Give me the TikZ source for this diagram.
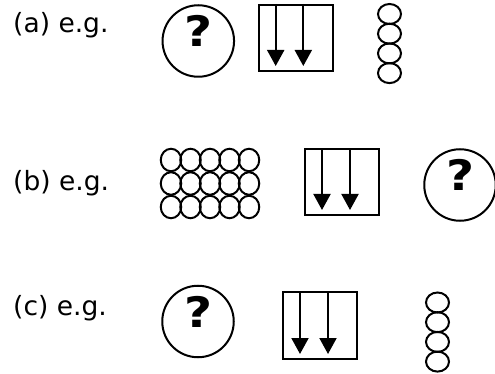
\documentclass[tikz,border=0pt]{standalone}
\usepackage{fontspec}
\setmainfont{DejaVu Sans}
\usetikzlibrary{arrows.meta,shapes.geometric}
\begin{document}
\begin{tikzpicture}[x=1pt,y=-1pt,
  lbl/.style={anchor=base west,inner sep=0pt,font=\fontsize{26.5}{30}\selectfont},
  qmark/.style={inner sep=0pt,font=\fontsize{42}{48}\selectfont\bfseries},
  ring/.style={draw,line width=2pt},
  frame/.style={draw,line width=2pt},
  flow/.style={line width=2pt,-{Triangle[width=17pt,length=16pt]}}]
\useasboundingbox (0,0) rectangle (495,374);
% row labels
\node[lbl] (la) at (13,33) {(a) e.g.};
\node[lbl] (lb) at (13,191) {(b) e.g.};
\node[lbl] (lc) at (13,315) {(c) e.g.};
% row (a)
\node[ring,circle,minimum size=71.5pt,inner sep=0pt] (ca) at (198.3,41) {};
\node[qmark] (qa) at (199,31) {\scalebox{1.15}[1]{?}};
\node[frame,minimum width=74pt,minimum height=66.5pt,inner sep=0pt] (ba) at (295.8,37.8) {};
\coordinate (a1s) at (275.7,4);
\coordinate (a1e) at (275.7,66);
\coordinate (a2s) at (303.3,4);
\coordinate (a2e) at (303.3,66);
\draw[flow] (a1s) -- (a1e);
\draw[flow] (a2s) -- (a2e);
\foreach \i/\yy in {1/14,2/33.7,3/53.4,4/73.1}
  \node[ring,ellipse,minimum width=23pt,minimum height=20pt,inner sep=0pt] (ea\i) at (389.5,\yy) {};
% row (b)
\foreach \r/\yy in {1/160,2/183.5,3/207}
  \foreach \c/\xx in {1/171,2/190.5,3/210,4/229.5,5/249}
    \node[ring,ellipse,minimum width=20.5pt,minimum height=22.5pt,inner sep=0pt] (g\r\c) at (\xx,\yy) {};
\node[frame,minimum width=74pt,minimum height=66.5pt,inner sep=0pt] (bb) at (341.5,182) {};
\coordinate (b1s) at (322,148.8);
\coordinate (b1e) at (322,210);
\coordinate (b2s) at (350,148.8);
\coordinate (b2e) at (350,210);
\draw[flow] (b1s) -- (b1e);
\draw[flow] (b2s) -- (b2e);
\node[ring,circle,minimum size=71.5pt,inner sep=0pt] (cb) at (460,185) {};
\node[qmark] (qb) at (460.7,175) {\scalebox{1.15}[1]{?}};
% row (c)
\node[ring,circle,minimum size=71.5pt,inner sep=0pt] (cc) at (198,321.5) {};
\node[qmark] (qc) at (198.7,311.5) {\scalebox{1.15}[1]{?}};
\node[frame,minimum width=74pt,minimum height=66.5pt,inner sep=0pt] (bc) at (319.5,325.5) {};
\coordinate (c1s) at (300,292.3);
\coordinate (c1e) at (300,354);
\coordinate (c2s) at (328,292.3);
\coordinate (c2e) at (328,354);
\draw[flow] (c1s) -- (c1e);
\draw[flow] (c2s) -- (c2e);
\foreach \i/\yy in {1/302.5,2/322.2,3/341.9,4/361.6}
  \node[ring,ellipse,minimum width=23pt,minimum height=20pt,inner sep=0pt] (ec\i) at (437.5,\yy) {};
\end{tikzpicture}
\end{document}
